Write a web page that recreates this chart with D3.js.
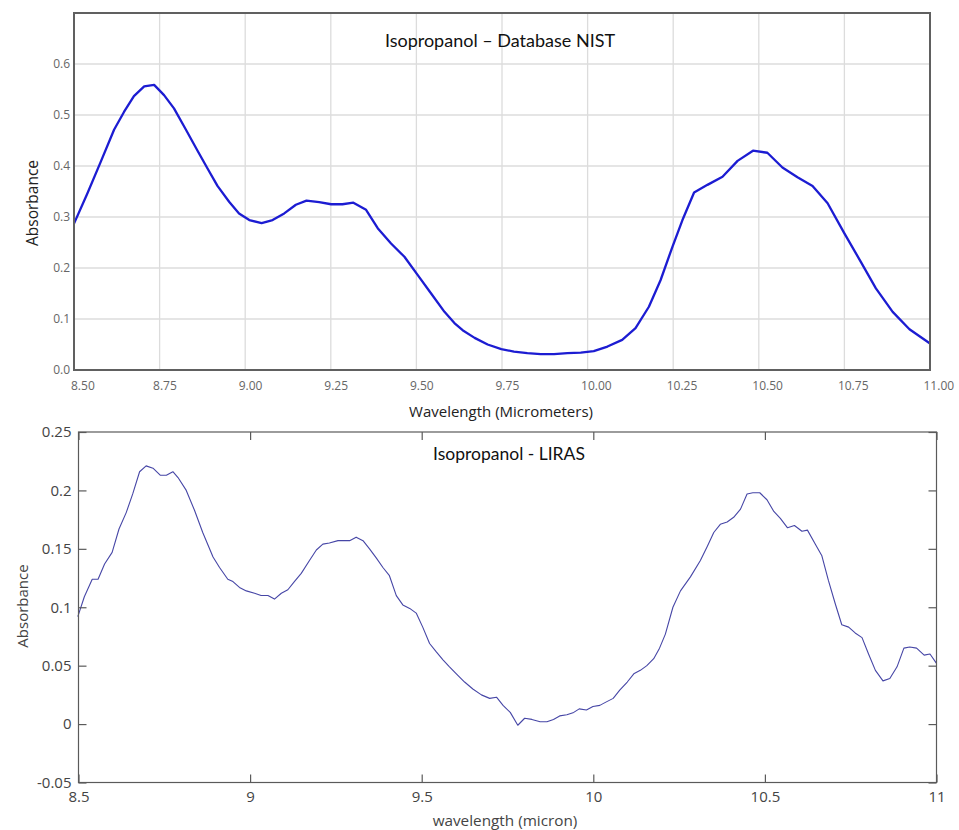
<!DOCTYPE html>
<html>
<head>
<meta charset="utf-8">
<script src="https://cdn.jsdelivr.net/npm/d3@7"></script>
<style>
  html, body { margin: 0; padding: 0; background: #fff; }
  svg { display: block; }
</style>
</head>
<body>
<svg id="chart" width="959" height="830"></svg>
<script>
// ---------- DATA ----------
// Top: NIST database spectrum
const nistWavelength = [8.500, 8.539, 8.578, 8.617, 8.646, 8.675, 8.705, 8.734, 8.763, 8.792, 8.827, 8.860, 8.890, 8.919, 8.953, 8.982, 9.012, 9.048, 9.080, 9.114, 9.148, 9.179, 9.216, 9.251, 9.284, 9.316, 9.353, 9.387, 9.426, 9.465, 9.504, 9.543, 9.582, 9.611, 9.635, 9.670, 9.708, 9.748, 9.785, 9.824, 9.863, 9.902, 9.941, 9.980, 10.018, 10.058, 10.101, 10.140, 10.179, 10.213, 10.248, 10.277, 10.311, 10.350, 10.394, 10.438, 10.483, 10.525, 10.569, 10.613, 10.657, 10.701, 10.750, 10.798, 10.842, 10.891, 10.940, 11.000];
const nistAbsorbance = [0.287, 0.346, 0.408, 0.471, 0.506, 0.537, 0.556, 0.559, 0.539, 0.513, 0.471, 0.431, 0.395, 0.361, 0.330, 0.307, 0.294, 0.288, 0.294, 0.307, 0.324, 0.332, 0.329, 0.325, 0.325, 0.328, 0.314, 0.278, 0.248, 0.222, 0.186, 0.150, 0.114, 0.092, 0.078, 0.063, 0.050, 0.041, 0.036, 0.033, 0.031, 0.031, 0.033, 0.034, 0.037, 0.046, 0.059, 0.082, 0.124, 0.176, 0.242, 0.294, 0.348, 0.363, 0.379, 0.410, 0.430, 0.426, 0.397, 0.378, 0.361, 0.327, 0.268, 0.212, 0.160, 0.114, 0.080, 0.052];
const nistXTicks = [8.50, 8.75, 9.00, 9.25, 9.50, 9.75, 10.00, 10.25, 10.50, 10.75, 11.00];
const nistYTicks = [0.0, 0.1, 0.2, 0.3, 0.4, 0.5, 0.6];

// Bottom: LIRAS measurement
const lirasWavelength = [8.498, 8.517, 8.540, 8.557, 8.576, 8.598, 8.618, 8.639, 8.658, 8.678, 8.697, 8.717, 8.738, 8.756, 8.775, 8.790, 8.814, 8.838, 8.862, 8.892, 8.911, 8.935, 8.950, 8.969, 8.989, 9.013, 9.032, 9.052, 9.071, 9.091, 9.110, 9.129, 9.149, 9.173, 9.193, 9.212, 9.231, 9.256, 9.275, 9.290, 9.309, 9.329, 9.348, 9.368, 9.387, 9.406, 9.426, 9.445, 9.465, 9.484, 9.503, 9.523, 9.542, 9.562, 9.581, 9.601, 9.625, 9.649, 9.674, 9.698, 9.718, 9.737, 9.758, 9.780, 9.800, 9.821, 9.845, 9.865, 9.884, 9.902, 9.923, 9.943, 9.959, 9.980, 9.999, 10.019, 10.038, 10.058, 10.077, 10.099, 10.118, 10.137, 10.156, 10.176, 10.193, 10.210, 10.232, 10.254, 10.283, 10.312, 10.332, 10.351, 10.370, 10.390, 10.409, 10.429, 10.448, 10.465, 10.485, 10.506, 10.526, 10.545, 10.566, 10.586, 10.608, 10.624, 10.647, 10.666, 10.685, 10.705, 10.724, 10.744, 10.763, 10.783, 10.802, 10.822, 10.844, 10.864, 10.885, 10.905, 10.922, 10.942, 10.964, 10.981, 11.000];
const lirasAbsorbance = [0.092, 0.109, 0.124, 0.124, 0.137, 0.147, 0.167, 0.181, 0.197, 0.216, 0.221, 0.219, 0.213, 0.213, 0.216, 0.211, 0.200, 0.183, 0.164, 0.143, 0.134, 0.124, 0.122, 0.117, 0.114, 0.112, 0.110, 0.110, 0.107, 0.112, 0.115, 0.122, 0.129, 0.140, 0.149, 0.154, 0.155, 0.157, 0.157, 0.157, 0.160, 0.157, 0.150, 0.142, 0.134, 0.127, 0.110, 0.102, 0.099, 0.095, 0.083, 0.069, 0.062, 0.055, 0.049, 0.043, 0.036, 0.030, 0.025, 0.022, 0.023, 0.016, 0.010, -0.001, 0.005, 0.004, 0.002, 0.002, 0.004, 0.007, 0.008, 0.010, 0.013, 0.012, 0.015, 0.016, 0.019, 0.022, 0.029, 0.036, 0.043, 0.046, 0.050, 0.056, 0.065, 0.077, 0.100, 0.114, 0.126, 0.140, 0.152, 0.164, 0.171, 0.173, 0.177, 0.184, 0.197, 0.198, 0.198, 0.192, 0.182, 0.176, 0.168, 0.170, 0.165, 0.166, 0.154, 0.144, 0.123, 0.103, 0.085, 0.083, 0.078, 0.074, 0.060, 0.046, 0.037, 0.039, 0.049, 0.065, 0.066, 0.065, 0.059, 0.060, 0.052];
const lirasXTicks = [8.5, 9, 9.5, 10, 10.5, 11];
const lirasYTicks = [-0.05, 0, 0.05, 0.1, 0.15, 0.2, 0.25];

// ---------- DRAW ----------
const svg = d3.select("#chart");
svg.append("rect").attr("width", 959).attr("height", 830).attr("fill", "#fff");

// ===== Top chart (NIST) =====
(function () {
  const L = 74, R = 930, T = 13, B = 370;
  const x = d3.scaleLinear().domain([8.5, 11]).range([L, R]);
  const y = d3.scaleLinear().domain([0, 0.7]).range([B, T]);
  const g = svg.append("g");

  // grid
  g.append("g").selectAll("line").data(nistXTicks.slice(1, -1)).join("line")
    .attr("x1", d => x(d)).attr("x2", d => x(d)).attr("y1", T).attr("y2", B)
    .attr("stroke", "#dcdcdc").attr("stroke-width", 1.3);
  g.append("g").selectAll("line").data(nistYTicks.slice(1)).join("line")
    .attr("x1", L).attr("x2", R).attr("y1", d => y(d)).attr("y2", d => y(d))
    .attr("stroke", "#dcdcdc").attr("stroke-width", 1.3);

  // line
  const pts = nistWavelength.map((w, i) => [w, nistAbsorbance[i]]);
  g.append("path").datum(pts)
    .attr("d", d3.line().x(d => x(d[0])).y(d => y(d[1])))
    .attr("fill", "none").attr("stroke", "#1c1cd2").attr("stroke-width", 2.3)
    .attr("stroke-linejoin", "round");

  // frame
  g.append("rect").attr("x", L).attr("y", T).attr("width", R - L).attr("height", B - T)
    .attr("fill", "none").attr("stroke", "#606060").attr("stroke-width", 2);

  // axes
  const xAxis = d3.axisBottom(x).tickValues(nistXTicks).tickFormat(d3.format(".2f")).tickSize(0).tickPadding(11);
  const xg = g.append("g").attr("transform", `translate(0,${B})`).call(xAxis);
  xg.select(".domain").remove();
  xg.selectAll("text").attr("font-family", "Open Sans, sans-serif").attr("font-size", 12).attr("fill", "#666")
    .attr("text-anchor", "start")
    .attr("dx", (d, i) => i === 0 ? -3.5 : -7);

  const yAxis = d3.axisLeft(y).tickValues(nistYTicks).tickFormat(d3.format(".1f")).tickSize(0).tickPadding(4);
  const yg = g.append("g").attr("transform", `translate(${L},0)`).call(yAxis);
  yg.select(".domain").remove();
  yg.selectAll("text").attr("font-family", "Open Sans, sans-serif").attr("font-size", 12).attr("fill", "#666");

  // titles
  g.append("text").attr("x", 500).attr("y", 40).attr("text-anchor", "middle").attr("dominant-baseline", "central")
    .attr("font-family", "Lato, sans-serif").attr("font-size", 18).attr("fill", "#111")
    .text("Isopropanol – Database NIST");
  g.append("text").attr("x", 501).attr("y", 411).attr("text-anchor", "middle").attr("dominant-baseline", "central")
    .attr("font-family", "Open Sans, sans-serif").attr("font-size", 15).attr("fill", "#222")
    .text("Wavelength (Micrometers)");
  g.append("text").attr("transform", "translate(32,203) rotate(-90)").attr("text-anchor", "middle").attr("dominant-baseline", "central")
    .attr("font-family", "Open Sans, sans-serif").attr("font-size", 15.5).attr("fill", "#222")
    .text("Absorbance");
})();

// ===== Bottom chart (LIRAS) =====
(function () {
  const L = 78.5, R = 936.5, T = 432, B = 782.5;
  const x = d3.scaleLinear().domain([8.5, 11]).range([L, R]);
  const y = d3.scaleLinear().domain([-0.05, 0.25]).range([B, T]);
  const g = svg.append("g");
  const fmt = d => String(+d.toFixed(2));
  const tk = 8;

  // line
  const pts = lirasWavelength.map((w, i) => [w, lirasAbsorbance[i]]);
  g.append("path").datum(pts)
    .attr("d", d3.line().x(d => x(d[0])).y(d => y(d[1])))
    .attr("fill", "none").attr("stroke", "#4646a6").attr("stroke-width", 1.1)
    .attr("stroke-linejoin", "round");

  // frame
  g.append("rect").attr("x", L).attr("y", T).attr("width", R - L).attr("height", B - T)
    .attr("fill", "none").attr("stroke", "#5a5a5a").attr("stroke-width", 1.2);

  const styleAxis = sel => {
    sel.select(".domain").remove();
    sel.selectAll(".tick line").attr("stroke", "#5a5a5a").attr("stroke-width", 1.2);
    sel.selectAll("text").attr("font-family", "Open Sans, sans-serif").attr("font-size", 15).attr("fill", "#444");
  };

  // bottom axis (ticks inward)
  const xb = g.append("g").attr("transform", `translate(0,${B})`)
    .call(d3.axisBottom(x).tickValues(lirasXTicks).tickFormat(fmt).tickSizeInner(-tk).tickSizeOuter(0).tickPadding(9));
  styleAxis(xb);
  // top axis (ticks only)
  const xt = g.append("g").attr("transform", `translate(0,${T})`)
    .call(d3.axisTop(x).tickValues(lirasXTicks).tickFormat("").tickSizeInner(-tk).tickSizeOuter(0));
  styleAxis(xt);
  // left axis
  const yl = g.append("g").attr("transform", `translate(${L},0)`)
    .call(d3.axisLeft(y).tickValues(lirasYTicks).tickFormat(fmt).tickSizeInner(-tk).tickSizeOuter(0).tickPadding(7));
  styleAxis(yl);
  // right axis
  const yr = g.append("g").attr("transform", `translate(${R},0)`)
    .call(d3.axisRight(y).tickValues(lirasYTicks).tickFormat("").tickSizeInner(-tk).tickSizeOuter(0));
  styleAxis(yr);

  // titles
  g.append("text").attr("x", 509).attr("y", 453).attr("text-anchor", "middle").attr("dominant-baseline", "central")
    .attr("font-family", "Lato, sans-serif").attr("font-size", 17.5).attr("fill", "#111")
    .text("Isopropanol - LIRAS");
  g.append("text").attr("x", 505).attr("y", 820).attr("text-anchor", "middle").attr("dominant-baseline", "central")
    .attr("font-family", "Open Sans, sans-serif").attr("font-size", 15.3).attr("fill", "#444")
    .text("wavelength (micron)");
  g.append("text").attr("transform", "translate(22,606) rotate(-90)").attr("text-anchor", "middle").attr("dominant-baseline", "central")
    .attr("font-family", "Open Sans, sans-serif").attr("font-size", 15).attr("fill", "#444")
    .text("Absorbance");
})();
</script>
</body>
</html>
